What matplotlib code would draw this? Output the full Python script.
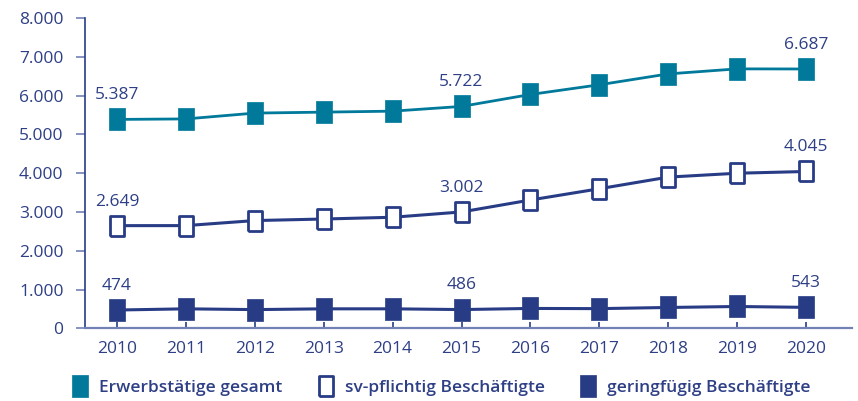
"""Erwerbstätige 2010-2020: Gesamt, sv-pflichtig und geringfügig Beschäftigte."""

import matplotlib

matplotlib.use("Agg")
import matplotlib.pyplot as plt
from matplotlib.lines import Line2D
from matplotlib.ticker import FuncFormatter

years = [2010, 2011, 2012, 2013, 2014, 2015, 2016, 2017, 2018, 2019, 2020]
gesamt = [5387, 5400, 5550, 5575, 5600, 5722, 6030, 6280, 6560, 6690, 6687]
sv_pflichtig = [2649, 2650, 2780, 2820, 2865, 3002, 3310, 3600, 3900, 4000, 4045]
geringfuegig = [474, 505, 485, 505, 505, 486, 515, 510, 540, 565, 543]
labelled_years = [2010, 2015, 2020]
legend_labels = ["Erwerbstätige gesamt", "sv-pflichtig Beschäftigte", "geringfügig Beschäftigte"]

TEAL = "#00799b"
NAVY = "#283c86"
TEXT = "#2e3f85"
AXIS_LIGHT = "#7282b6"

plt.rcParams["font.family"] = ["Open Sans", "DejaVu Sans"]

# tall rectangle marker (about 16 x 22 px in the original)
RECT = [(-0.36, -0.5), (0.36, -0.5), (0.36, 0.5), (-0.36, 0.5), (-0.36, -0.5)]

fig = plt.figure(figsize=(8.58, 4.01), dpi=100)
ax = fig.add_axes([0.0991, 0.181, 0.894, 0.774])

ax.plot(years, gesamt, color=TEAL, linewidth=2.0, marker=RECT, markersize=15.5,
        markerfacecolor=TEAL, markeredgecolor=TEAL, markeredgewidth=0.5, zorder=3)
ax.plot(years, sv_pflichtig, color=NAVY, linewidth=2.2, marker=RECT, markersize=14.5,
        markerfacecolor="white", markeredgecolor=NAVY, markeredgewidth=2.0, zorder=3)
ax.plot(years, geringfuegig, color=NAVY, linewidth=2.2, marker=RECT, markersize=15.5,
        markerfacecolor=NAVY, markeredgecolor=NAVY, markeredgewidth=0.5, zorder=3)

for series in (gesamt, sv_pflichtig, geringfuegig):
    for year in labelled_years:
        value = series[years.index(year)]
        ax.annotate(f"{value:,}".replace(",", "."), (year, value),
                    xytext=(0, 14.5), textcoords="offset points",
                    ha="center", va="baseline", fontsize=12.5, color=TEXT)

ax.set_xlim(2009.536, 2020.668)
ax.set_ylim(0, 8000)
ax.set_xticks(years)
ax.set_yticks(range(0, 8001, 1000))
ax.yaxis.set_major_formatter(FuncFormatter(lambda v, _: f"{int(v):,}".replace(",", ".")))

for side in ("top", "right"):
    ax.spines[side].set_visible(False)
ax.spines["left"].set_color(NAVY)
ax.spines["left"].set_linewidth(1.2)
ax.spines["bottom"].set_color(AXIS_LIGHT)
ax.spines["bottom"].set_linewidth(1.6)

ax.tick_params(axis="y", direction="out", length=6.5, width=1.2, color=AXIS_LIGHT,
               pad=9, labelsize=12.5, labelcolor=TEXT)
ax.tick_params(axis="x", direction="in", length=4.5, width=1.2, color=NAVY,
               pad=9, labelsize=12.5, labelcolor=TEXT)

handles = [
    Line2D([], [], linestyle="none", marker=RECT, markersize=15.5,
           markerfacecolor=TEAL, markeredgecolor=TEAL, markeredgewidth=0.5),
    Line2D([], [], linestyle="none", marker=RECT, markersize=14.5,
           markerfacecolor="white", markeredgecolor=NAVY, markeredgewidth=2.0),
    Line2D([], [], linestyle="none", marker=RECT, markersize=15.5,
           markerfacecolor=NAVY, markeredgecolor=NAVY, markeredgewidth=0.5),
]
legend = fig.legend(handles, legend_labels, loc="center left", bbox_to_anchor=(0.083, 0.033),
                    ncol=3, frameon=False, handlelength=1.0, handletextpad=0.6,
                    columnspacing=2.0, borderpad=0, borderaxespad=0,
                    prop={"size": 12.5, "weight": "semibold"})
for text in legend.get_texts():
    text.set_color(TEXT)

fig.savefig("out.png", dpi=100)
